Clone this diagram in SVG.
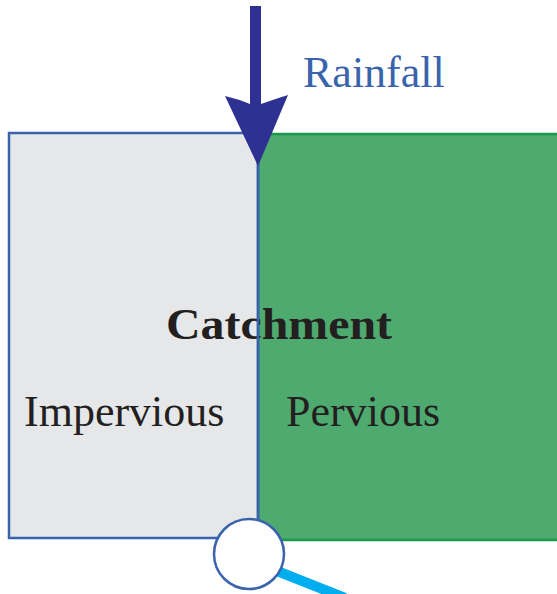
<svg xmlns="http://www.w3.org/2000/svg" width="557" height="594" viewBox="0 0 557 594">
<style>
.t{font-family:"Liberation Serif","Times New Roman",serif;font-size:44px;fill:#231f20}
</style>
<rect width="557" height="594" fill="#fff"/>
<g id="pervious">
<rect x="258" y="134" width="302" height="406" fill="#4faa6f" stroke="#1a9a4a" stroke-width="2.5"/>
<text class="t" x="286" y="426">Pervious</text>
</g>
<g id="impervious">
<rect x="9" y="133" width="249" height="405" fill="#e6e7e9" stroke="#3a63ad" stroke-width="2.5"/>
<text class="t" x="24" y="426">Impervious</text>
</g>
<g id="catchment">
<text class="t" x="166" y="339" font-weight="bold" font-size="50" textLength="226" lengthAdjust="spacingAndGlyphs">Catchment</text>
</g>
<g id="connectors">
<line x1="258" y1="134" x2="258" y2="520" stroke="#3a63ad" stroke-width="2.5"/>
<line x1="277" y1="571" x2="345" y2="598" stroke="#00aeef" stroke-width="10"/>
<path d="M250,6 H261 V104 Q275,99 288,95 L258,166 L225,96 Q238,99 250,104 Z" fill="#2e3192"/>
</g>
<g id="outlet">
<circle cx="249" cy="554" r="35" fill="#fff" stroke="#3a63ad" stroke-width="2.5"/>
</g>
<g id="rainfall">
<text class="t" x="303" y="87" style="fill:#3a63ad">Rainfall</text>
</g>
</svg>
